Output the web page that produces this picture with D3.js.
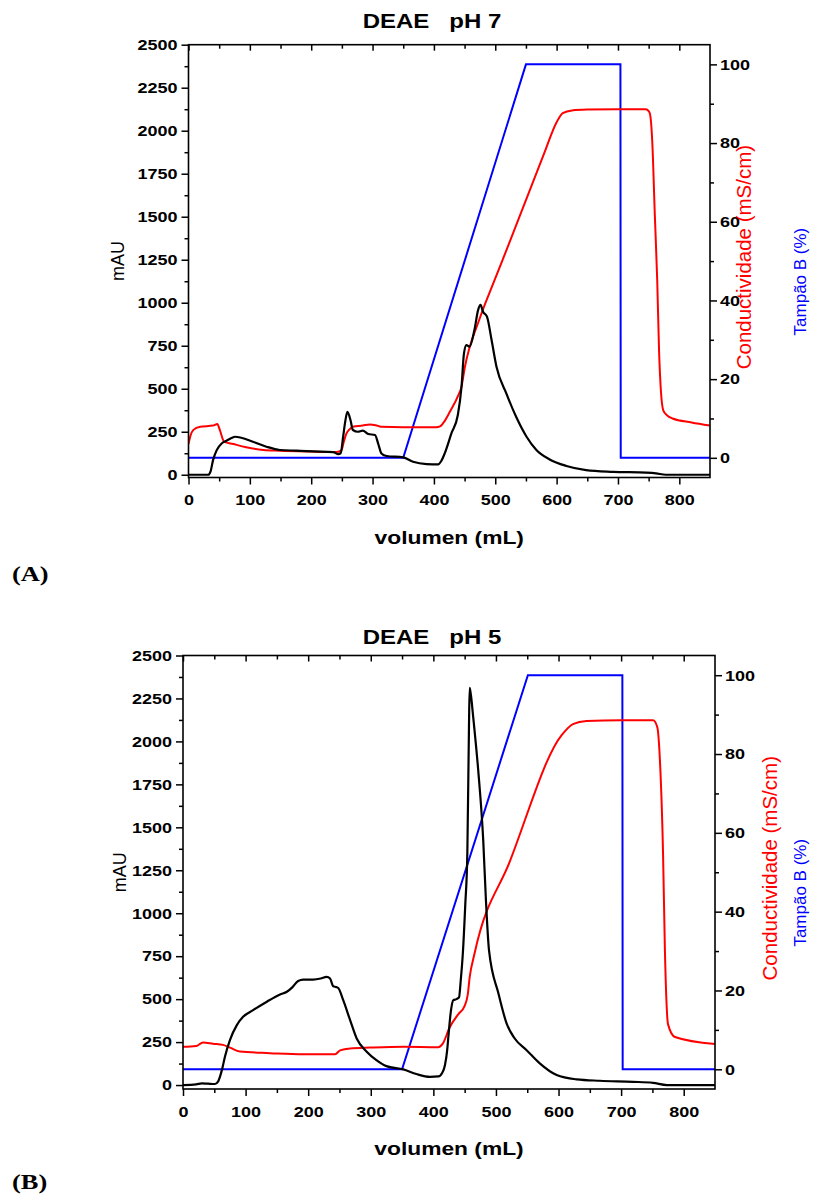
<!DOCTYPE html>
<html><head><meta charset="utf-8">
<script src="https://cdn.jsdelivr.net/npm/d3@7"></script>
<style>
html,body{margin:0;padding:0;background:#fff;}
svg{display:block;}
text{font-family:"Liberation Sans",Arial,sans-serif;}
</style></head><body>
<svg id="fig" width="819" height="1197"></svg>
<script>
// ---------- axis ticks ----------
const xTicks = [0,100,200,300,400,500,600,700,800];
const xMinor = [50,150,250,350,450,550,650,750];
const mauTicks = [0,250,500,750,1000,1250,1500,1750,2000,2250,2500];
const mauMinor = [125,375,625,875,1125,1375,1625,1875,2125,2375];
const pctTicks = [0,20,40,60,80,100];
const pctMinor = [10,30,50,70,90];

// ---------- DEAE pH 7 ----------
const volUvA = [0,20,32,36,40,46,54,62,70,76,86,105,127,149,176,203,236,244,248,252,255,259,264,268,276,284,293,304,309,314.5,323,350,366,388,407,412,417.6,428.5,439,445,449,453,458,466,472,476,480,486.5,494,502,518,534,551,567,588.6,616,648,692,746,762,778,850];
const uvA    = [0,0,0,20,85,143,182,198,214,221,215,192,163,144,140,136,132,120,125,220,299,365,318,260,250,256,237,231,183,124,109,101,76,62,60,80,124,240,347,512,706,754,744,841,957,987,948,919,783,628,473,337,221,144,89,51,27,17,12,8,0,0];

const volCondA = [0,3,8,19,40,47,51,58,73,94,122,149,200,242,249.5,253,257.5,263,268,284,295.5,305,314,350,404,410,415,426,440,445,450,474.6,499,520,550,580,600,610,625,650,700,745,749,752,756,760,764,767,770,774,780,789,820,850];
const condA    = [3.5,5.5,7.1,7.9,8.2,8.6,7.1,4.1,3.5,2.7,2.0,1.8,1.6,1.5,2.0,4.0,6.2,7.3,7.9,8.2,8.5,8.3,7.9,7.8,7.8,8.0,8.8,11.7,16,18.1,22.7,35.4,45.2,53.5,65.5,77.5,85.3,87.6,88.3,88.5,88.6,88.6,88.3,87.5,80,62,45,27,17,12,10.8,10,9,8.2];

const volBufA = [0,350,550,704,704.5,850];
const bufA    = [0,0,100,100,0,0];

// ---------- DEAE pH 5 ----------
const volUvB = [0,21,30,40,51,56,59,63,67,75,86,96,112,134,155,166,175,184,192,208,220,229.5,235,240,245,248,256,267,277.5,293.5,309,325,352,373,394.6,408,414,418.5,422,424,428,432,437,441,444,447,451,454.3,456.9,458,460,463.7,471.7,479.7,484,488.9,504,517,530,549,570,597,629,666,719,751,773,850];
const uvB    = [0,4,10,8,6,20,48,100,165,262,349,397,436,485,527,543,570,606,614,614,620,630,620,575,570,565,494,378,271,194,145,110,91,64,48,50,70,115,200,281,430,494,500,510,620,760,1050,1349,2083,2312,2270,2141,1831,1424,1076,785,533,359,271,203,126,58,33,25,19,13,0,0];

const volCondB = [0,21,32,48,64,75,91,139,192,243,251,267,299,352,408,415,426,440,450,455,458,466,521.6,605,623,644.6,700,751,757.7,762,767,770,775,786,850];
const condB    = [5.7,5.9,6.8,6.5,6.2,5.5,4.5,4.1,3.8,3.8,4.8,5.3,5.5,5.7,5.6,6.5,10.6,14,16.1,19,23.3,29.5,52.5,84.8,87.6,88.4,88.6,88.6,86.9,78.4,54.7,30,11.4,8.2,6.4];

const volBufB = [0,350,551,702,702.5,850];
const bufB    = [0,0,100,100,0,0];

// ---------- layout of the two panels ----------
const panels = [
  {id:"A", title:"DEAE   pH 7", x0:188.5, x1:710, yt:44.7, yb:477.5, mauMin:-16, titleY:27.5,
   mauX:124, condX:751, bufX:806, tag:"(A)", tagY:581,
   uv:[volUvA,uvA], cond:[volCondA,condA], buf:[volBufA,bufA]},
  {id:"B", title:"DEAE   pH 5", x0:183, x1:715, yt:655.5, yb:1089, mauMin:-23, titleY:643.5,
   mauX:126, condX:777, bufX:806, tag:"(B)", tagY:1189,
   uv:[volUvB,uvB], cond:[volCondB,condB], buf:[volBufB,bufB]}
];

const SX = 1.2; // horizontal stretch of lettering
const svg = d3.select("#fig");

function stretch(sel){
  sel.each(function(){
    const t = d3.select(this);
    const x = +t.attr("x") || 0, y = +t.attr("y") || 0;
    t.attr("transform", `translate(${x},${y}) scale(${SX},1)`).attr("x",0).attr("y",0);
  });
}

function styleAxis(g){
  g.select(".domain").remove();
  g.selectAll(".tick line").attr("stroke","#000").attr("stroke-width",1.5);
  g.selectAll(".tick text").attr("fill","#000")
    .style("font-size","15px").style("font-weight","bold")
    .style("font-family","'Liberation Sans',Arial,sans-serif");
  stretch(g.selectAll(".tick text"));
}

function drawPanel(p){
  const g = svg.append("g");
  const x  = d3.scaleLinear().domain([0,850]).range([p.x0,p.x1]);
  const yL = d3.scaleLinear().domain([p.mauMin,2500]).range([p.yb,p.yt]);
  const yR = d3.scaleLinear().domain([-5,105]).range([p.yb,p.yt]);

  g.append("clipPath").attr("id","clip"+p.id).append("rect")
    .attr("x",p.x0).attr("y",p.yt).attr("width",p.x1-p.x0).attr("height",p.yb-p.yt);

  const plot = g.append("g").attr("clip-path",`url(#clip${p.id})`);

  const lineOf = (xs, ys, ys2, curve) => d3.line()
      .x((d,i)=>x(xs[i])).y((d,i)=>ys2(ys[i])).curve(curve)(xs);

  plot.append("path").attr("d", lineOf(p.buf[0], p.buf[1], yR, d3.curveLinear))
    .attr("fill","none").attr("stroke","#0000ff").attr("stroke-width",2);
  plot.append("path").attr("d", lineOf(p.cond[0], p.cond[1], yR, d3.curveMonotoneX))
    .attr("fill","none").attr("stroke","#ff0000").attr("stroke-width",2).attr("stroke-linejoin","round");
  plot.append("path").attr("d", lineOf(p.uv[0], p.uv[1], yL, d3.curveMonotoneX))
    .attr("fill","none").attr("stroke","#000").attr("stroke-width",2.2).attr("stroke-linejoin","round");

  // axes
  const bx = g.append("g").attr("transform",`translate(0,${p.yb})`)
    .call(d3.axisBottom(x).tickValues(xTicks).tickSize(7).tickPadding(10).tickFormat(d3.format("d")));
  styleAxis(bx);
  const bxm = g.append("g").attr("transform",`translate(0,${p.yb})`)
    .call(d3.axisBottom(x).tickValues(xMinor).tickSize(4).tickFormat(()=>""));
  styleAxis(bxm);

  const tx = g.append("g").attr("transform",`translate(0,${p.yt})`)
    .call(d3.axisTop(x).tickValues(xTicks).tickSize(-6).tickFormat(()=>""));
  styleAxis(tx);
  const txm = g.append("g").attr("transform",`translate(0,${p.yt})`)
    .call(d3.axisTop(x).tickValues(xMinor).tickSize(-4).tickFormat(()=>""));
  styleAxis(txm);

  const ly = g.append("g").attr("transform",`translate(${p.x0},0)`)
    .call(d3.axisLeft(yL).tickValues(mauTicks).tickSize(7).tickPadding(4).tickFormat(d3.format("d")));
  styleAxis(ly);
  const lym = g.append("g").attr("transform",`translate(${p.x0},0)`)
    .call(d3.axisLeft(yL).tickValues(mauMinor).tickSize(4).tickFormat(()=>""));
  styleAxis(lym);

  const ry = g.append("g").attr("transform",`translate(${p.x1},0)`)
    .call(d3.axisRight(yR).tickValues(pctTicks).tickSize(7).tickPadding(3).tickFormat(d3.format("d")));
  styleAxis(ry);
  const rym = g.append("g").attr("transform",`translate(${p.x1},0)`)
    .call(d3.axisRight(yR).tickValues(pctMinor).tickSize(4).tickFormat(()=>""));
  styleAxis(rym);

  // frame
  g.append("rect").attr("x",p.x0).attr("y",p.yt).attr("width",p.x1-p.x0).attr("height",p.yb-p.yt)
    .attr("fill","none").attr("stroke","#000").attr("stroke-width",1.6);

  // titles and labels
  const cx = (p.x0+p.x1)/2;
  g.append("text").attr("transform",`translate(432,${p.titleY}) scale(${SX},1)`)
    .attr("text-anchor","middle").style("font-size","20px").style("font-weight","bold")
    .style("white-space","pre").text(p.title);

  g.append("text").attr("transform",`translate(${cx},${p.yb+66}) scale(${SX},1)`)
    .attr("text-anchor","middle").style("font-size","19px").style("font-weight","bold")
    .text("volumen (mL)");

  const cy = (p.yt+p.yb)/2;
  g.append("text").attr("transform",`translate(${p.mauX},${cy}) rotate(-90)`)
    .attr("text-anchor","middle").style("font-size","18px").text("mAU");

  g.append("text").attr("transform",`translate(${p.condX},${cy-4}) rotate(-90)`)
    .attr("text-anchor","middle").style("font-size","20.5px").attr("fill","#ff0000")
    .text("Conductividade (mS/cm)");
  g.append("text").attr("transform",`translate(${p.bufX},${cy+20.5}) rotate(-90)`)
    .attr("text-anchor","middle").style("font-size","17px").attr("fill","#0000ff")
    .text("Tampão B (%)");

  g.append("text").attr("transform",`translate(12,${p.tagY}) scale(${SX},1)`)
    .style("font-family","'Liberation Serif','Times New Roman',serif")
    .style("font-size","22px").style("font-weight","bold").text(p.tag);
}

panels.forEach(drawPanel);
</script>
</body></html>
